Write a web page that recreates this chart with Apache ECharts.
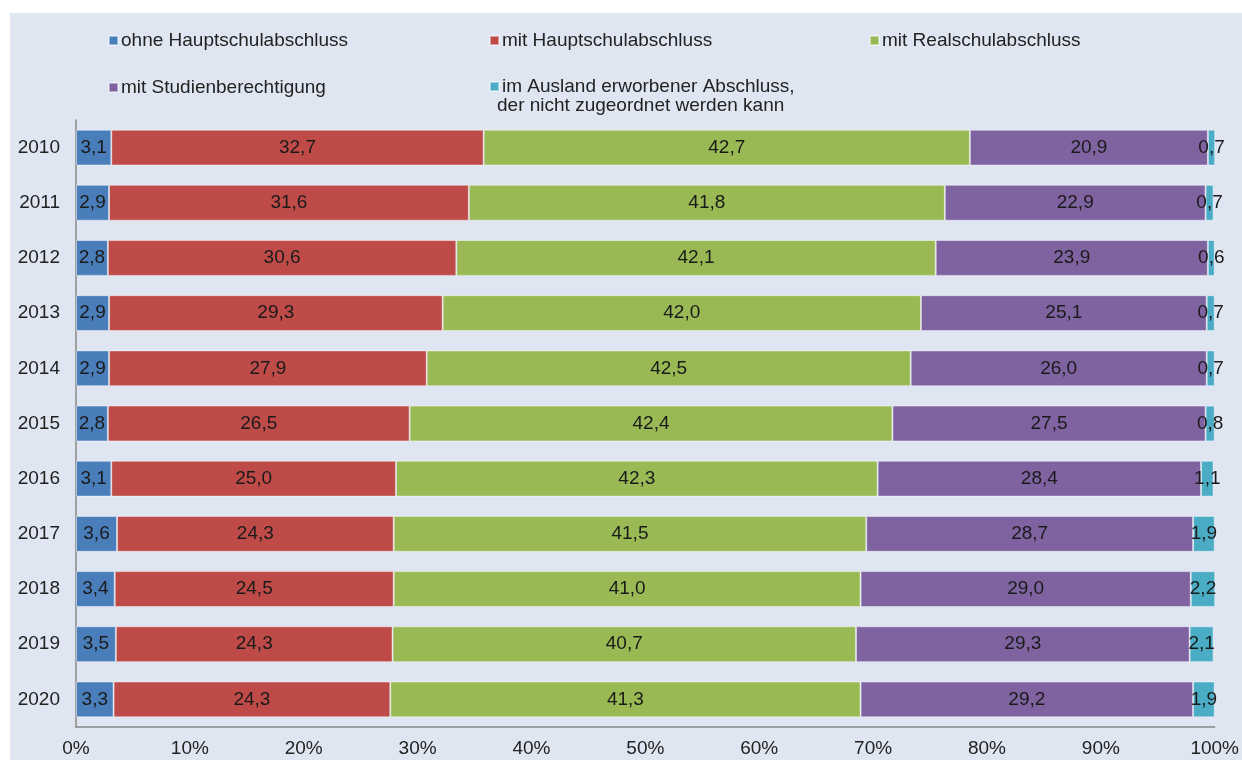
<!DOCTYPE html>
<html>
<head>
<meta charset="utf-8">
<script src="https://cdn.jsdelivr.net/npm/echarts@6/dist/echarts.min.js"></script>
<style>
html,body{margin:0;padding:0;background:#fff;}
#c{width:1242px;height:760px;}
</style>
</head>
<body>
<div id="c"></div>
<script>
var years = ['2010','2011','2012','2013','2014','2015','2016','2017','2018','2019','2020'];
var seriesNames = ['ohne Hauptschulabschluss','mit Hauptschulabschluss','mit Realschulabschluss','mit Studienberechtigung','im Ausland erworbener Abschluss,'];
var ohneHS = [3.1,2.9,2.8,2.9,2.9,2.8,3.1,3.6,3.4,3.5,3.3];
var mitHS = [32.7,31.6,30.6,29.3,27.9,26.5,25.0,24.3,24.5,24.3,24.3];
var mitRS = [42.7,41.8,42.1,42.0,42.5,42.4,42.3,41.5,41.0,40.7,41.3];
var mitStud = [20.9,22.9,23.9,25.1,26.0,27.5,28.4,28.7,29.0,29.3,29.2];
var ausland = [0.7,0.7,0.6,0.7,0.7,0.8,1.1,1.9,2.2,2.1,1.9];
var xTicks = [0,10,20,30,40,50,60,70,80,90,100];

var colors = ['#4a7ebb','#be4b48','#98b954','#7f63a1','#4bacc6'];
var font = 'Liberation Sans, Arial, sans-serif';
var allData = [ohneHS, mitHS, mitRS, mitStud, ausland];

var chart = echarts.init(document.getElementById('c'));
var legendPos = [[103,26],[484,26],[864,26],[103,73],[484,72]];
var legends = seriesNames.map(function(n,i){
  return {
    data:[n], left:legendPos[i][0], top:legendPos[i][1],
    itemWidth:9, itemHeight:9, itemGap:4, icon:'rect',
    textStyle:{fontFamily:font,fontSize:19,color:'#222',padding:[0,0,0,-2]},
    selectedMode:false
  };
});
var series = seriesNames.map(function(n,i){
  return {
    name:n, type:'bar', stack:'t', barWidth:'65%',
    data: allData[i],
    itemStyle:{color:colors[i], borderColor:'rgba(255,255,255,0.45)', borderWidth:1},
    label:{show:true, position:'inside', fontFamily:font, fontSize:19, color:'#1a1a1a',
      formatter:function(p){return p.value.toFixed(1).replace('.',',');}},
    labelLayout:{hideOverlap:false},
    emphasis:{disabled:true}
  };
});
chart.setOption({
  animation:false,
  backgroundColor:'#ffffff',
  graphic:[
    {type:'rect', z:-10, shape:{x:10,y:13,width:1232,height:747}, style:{fill:'#dfe6f2'}, silent:true},
    {type:'text', left:497, top:96, style:{text:'der nicht zugeordnet werden kann', font:'19px '+font, fill:'#222'}}
  ],
  legend: legends,
  grid:{left:76,right:22,top:120,bottom:33,containLabel:false},
  xAxis:{type:'value',min:xTicks[0],max:xTicks[xTicks.length-1],interval:10,
    axisLine:{show:true,lineStyle:{color:'#888',width:1.5}},
    axisTick:{show:false}, splitLine:{show:false},
    axisLabel:{formatter:'{value}%',fontFamily:font,fontSize:19,color:'#222',margin:12}},
  yAxis:{type:'category',data:years,inverse:true,
    axisLine:{show:true,lineStyle:{color:'#888',width:1.5}},
    axisTick:{show:false},
    axisLabel:{fontFamily:font,fontSize:19,color:'#222',margin:16}},
  series: series
});
</script>
</body>
</html>
